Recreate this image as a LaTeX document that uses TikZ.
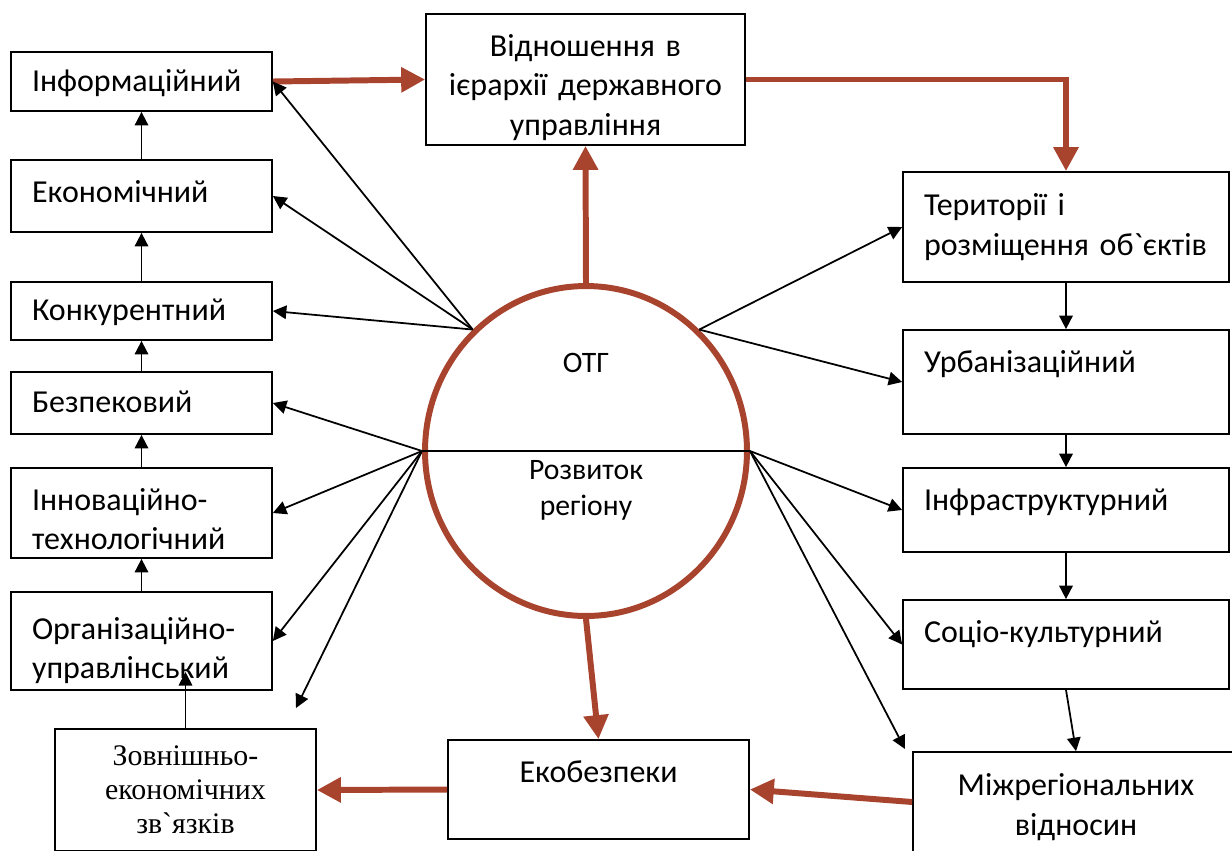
\documentclass[tikz,border=0pt]{standalone}
\usepackage{fontspec}
\setmainfont{Carlito}
\newfontfamily\serifpart{Liberation Serif}
\usetikzlibrary{arrows.meta,shapes.geometric}
\definecolor{rust}{RGB}{168,67,46}

\begin{document}
\begin{tikzpicture}[x=0.02cm,y=-0.02cm]
		\tikzstyle{box}=[draw,line width=1pt,inner sep=0pt,inner xsep=0.42cm,font=\fontsize{18.2}{22.4}\selectfont]
		\tikzstyle{leftbox}=[box,text width=4.38cm,align=left]
		\tikzstyle{rightbox}=[box,text width=5.68cm,align=left]
		\tikzstyle{midbox}=[box,align=center]
		\tikzstyle{lifted}=[text height=0.45cm,text depth=#1]
		\tikzstyle{ring}=[ellipse,draw=rust,line width=3.4pt,minimum width=6.44cm,minimum height=6.6cm,inner sep=0pt]
		\tikzstyle{flow}=[rust,line width=3.4pt,-{Triangle[length=0.48cm,width=0.48cm]}]
		\tikzstyle{link}=[line width=1pt,-{Triangle[length=0.27cm,width=0.27cm]}]
		
		\useasboundingbox (0,0) rectangle (1232,850);
		
		% ring in the middle
		\node[ring] (otg) at (586,451) {};
		\draw[line width=1pt] (otg.west) -- (otg.east);
		\node[font=\fontsize{16.9}{20.5}\selectfont] (otgtext) at (586,363) {ОТГ};
		\node[font=\fontsize{16.9}{20.5}\selectfont,align=center] (rozv) at (586,490) {Розвиток\\регіону};
		
		% left column
		\node[leftbox,lifted=0.07cm,minimum height=1.18cm] (info) at (141.5,81.5) {Інформаційний};
		\node[leftbox,lifted=0.2cm,minimum height=1.44cm] (econ) at (141.5,196) {Економічний};
		\node[leftbox,lifted=0.07cm,minimum height=1.16cm] (konk) at (141.5,311) {Конкурентний};
		\node[leftbox,lifted=0.07cm,minimum height=1.24cm] (bezp) at (141.5,403) {Безпековий};
		\node[leftbox,lifted=0.56cm,minimum height=1.8cm] (innov) at (141.5,513) {Інноваційно-\\технологічний};
		\node[leftbox,lifted=0.52cm,minimum height=1.96cm] (org) at (141.5,641) {Організаційно-\\управлінський};
		
		% top box
		\node[midbox,lifted=1.37cm,text width=5.54cm,minimum height=2.62cm] (vidn) at (585.5,79.5) {Відношення в\\ієрархії державного\\управління};
		
		% right column
		\node[rightbox,minimum height=2.2cm] (terr) at (1066,227) {Території і\\розміщення об\textasciigrave єктів};
		\node[rightbox,lifted=0.85cm,minimum height=2.08cm] (urb) at (1066,382) {Урбанізаційний};
		\node[rightbox,lifted=0.45cm,minimum height=1.68cm] (infra) at (1066,510) {Інфраструктурний};
		\node[rightbox,lifted=0.55cm,minimum height=1.78cm] (soc) at (1066,644.5) {Соціо-культурний};
		\node[midbox,lifted=0.7cm,text width=5.68cm,minimum height=2cm] (mizh) at (1076,802) {Міжрегіональних\\відносин};
		
		% bottom row
		\node[midbox,lifted=0.73cm,text width=5.18cm,minimum height=1.98cm] (eko) at (598.5,789.5) {Екобезпеки};
		\node[midbox,text width=4.38cm,minimum height=2.44cm,font=\serifpart\fontsize{17}{19.3}\selectfont] (zovn) at (185.5,790) {Зовнішньо-\\економічних\\зв\textasciigrave язків};
		
		\coordinate (orgin) at (185.5,672);
		\coordinate (leftend) at (296,708);
		\coordinate (rightend) at (905,749);
		
		% thick flows
		\draw[flow] (info.east) -- (vidn.west);
		\draw[flow] (vidn.east) -| (terr.north);
		\draw[flow] (otg.north) -- (vidn.south);
		\draw[flow] (otg.south) -- (eko.north);
		\draw[flow] (eko.west) -- (zovn.east);
		\draw[flow] (mizh.west) -- (eko.east);
		
		% left column chain
		\draw[link] (konk.north) -- (econ.south);
		\draw[link] (econ.north) -- (info.south);
		\draw[link] (bezp.north) -- (konk.south);
		\draw[link] (innov.north) -- (bezp.south);
		\draw[link] (org.north) -- (innov.south);
		\draw[link] (zovn.north) -- (orgin);
		
		% right column chain
		\draw[link] (terr.south) -- (urb.north);
		\draw[link] (urb.south) -- (infra.north);
		\draw[link] (infra.south) -- (soc.north);
		\draw[link] (soc.south) -- (mizh.north);
		
		% fans out of the ring
		\draw[link] (otg.133) -- (info.east);
		\draw[link] (otg.133) -- (econ.east);
		\draw[link] (otg.133) -- (konk.east);
		\draw[link] (otg.west) -- (bezp.east);
		\draw[link] (otg.west) -- (innov.east);
		\draw[link] (otg.west) -- (org.east);
		\draw[link] (otg.west) -- (leftend);
		\draw[link] (otg.47) -- (terr.west);
		\draw[link] (otg.47) -- (urb.west);
		\draw[link] (otg.east) -- (infra.west);
		\draw[link] (otg.east) -- (soc.west);
		\draw[link] (otg.east) -- (rightend);
\end{tikzpicture}
\end{document}
